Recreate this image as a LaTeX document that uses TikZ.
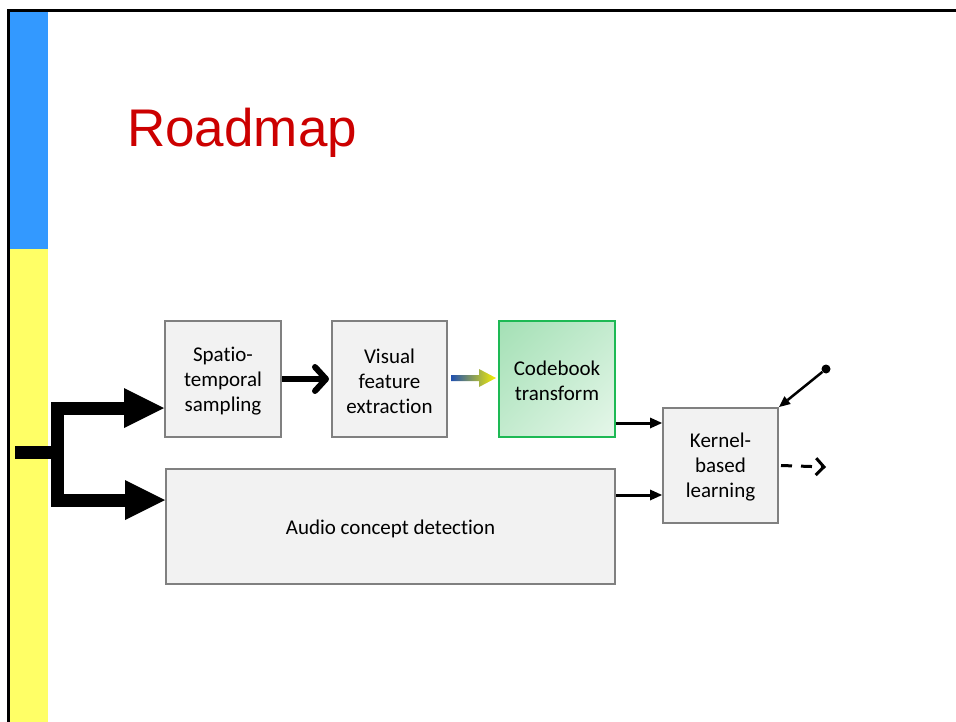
\documentclass[tikz,border=0pt]{standalone}
\usepackage{fontspec}
\setmainfont{Carlito}[Ligatures=CommonOff]
\newfontfamily\titlefont{Liberation Sans}
\usetikzlibrary{arrows.meta,calc,shadings}
\definecolor{barblue}{HTML}{3399FF}
\definecolor{baryellow}{HTML}{FFFF66}
\definecolor{titlered}{HTML}{CC0000}
\definecolor{boxfill}{HTML}{F2F2F2}
\definecolor{boxline}{HTML}{808080}
\definecolor{cbline}{HTML}{1DB954}
\definecolor{cbdark}{HTML}{A4E0B5}
\definecolor{cblight}{HTML}{E6F7EA}
\definecolor{cbmid}{HTML}{C4EBCF}
\definecolor{gradblue}{HTML}{2050B0}
\definecolor{gradgreen}{HTML}{20B070}
\definecolor{gradyellow}{HTML}{F8F000}
\begin{document}
\begin{tikzpicture}[x=1pt,y=-1pt,
  block/.style={draw=boxline,line width=2pt,fill=boxfill,minimum width=116pt,
    minimum height=116pt,inner sep=0pt},
  blocktext/.style={align=center,inner sep=0pt,yshift=-2pt,
    font=\fontsize{21}{25}\selectfont},
  fatarrow/.style={line width=13pt,line join=miter,
    -{Triangle[length=40pt,width=40pt,line width=0pt]}},
  midarrow/.style={line width=6pt,
    -{Straight Barb[length=11pt,width=24pt,round]}},
  thinarrow/.style={line width=3pt,
    -{Triangle[length=12pt,width=11pt,line width=0pt]}}]
\useasboundingbox (0,0) rectangle (956,722);
\fill[white] (0,0) rectangle (956,722);
% side bar and frame
\fill[barblue] (10,12) rectangle (48,249);
\fill[baryellow] (10,249) rectangle (48,722);
\draw[line width=3pt,line join=miter] (8.5,722) -- (8.5,10.5) -- (956,10.5);
% title
\node[anchor=base west,inner sep=0pt,text=titlered,font=\titlefont\fontsize{53}{60}\selectfont]
  (title) at (127,147) {Roadmap};
% blocks
\node[block,label={[blocktext]center:Spatio-\\temporal\\sampling}] (sp) at (223,379) {};
\node[block,minimum width=115pt,label={[blocktext]center:Visual\\feature\\extraction}]
  (vf) at (389.5,379) {};
\node[block,draw=cbline,upper left=cbdark,upper right=cbmid,lower left=cbmid,
  lower right=cblight,label={[blocktext]center:Codebook\\transform}] (cb) at (557,379) {};
\node[block,minimum width=115pt,minimum height=115pt,
  label={[blocktext]center:Kernel-\\based\\learning}] (kb) at (720.5,465.5) {};
\node[block,minimum width=449pt,minimum height=115pt,
  label={[blocktext]center:Audio concept detection}] (ad) at (390.5,526.5) {};
% fork from the side bar
\coordinate (src) at (15,452);
\coordinate (fork) at (57,452);
\draw[line width=13pt] (src) -- (fork);
\draw[fatarrow] (fork) |- (sp.west |- 0,408);
\draw[fatarrow] (fork) |- (ad.west |- 0,500);
% sampling to features
\draw[midarrow] (sp.east |- 0,379) -- ($(vf.west |- 0,379)+(-2,0)$);
% colour-shaded arrow into the codebook
\coordinate (ga) at ($(vf.east |- 0,378)+(3,0)$);
\coordinate (gb) at ($(cb.west |- 0,378)+(-2,0)$);
\shade[left color=gradblue,middle color=gradgreen,right color=gradyellow]
  ($(ga)+(0,-3)$) -- ($(gb)+(-17,-3)$) -- ($(gb)+(-17,-9)$) -- (gb)
  -- ($(gb)+(-17,9)$) -- ($(gb)+(-17,3)$) -- ($(ga)+(0,3)$) -- cycle;
% into the learner
\draw[thinarrow] (cb.east |- 0,423) -- (kb.west |- 0,423);
\draw[thinarrow] (ad.east |- 0,495) -- (kb.west |- 0,495);
\node[circle,fill=black,inner sep=0pt,minimum size=9pt] (sw) at (826,369) {};
\draw[line width=2.5pt,-{Triangle[length=11pt,width=10pt,line width=0pt]}]
  (sw) -- (kb.north east);
\coordinate (out) at (826,467);
\draw[line width=3pt,dash pattern=on 11pt off 9pt,
  -{Straight Barb[length=8pt,width=17pt]}] ($(kb.east)+(2,0)$) -- (out);
\end{tikzpicture}
\end{document}
